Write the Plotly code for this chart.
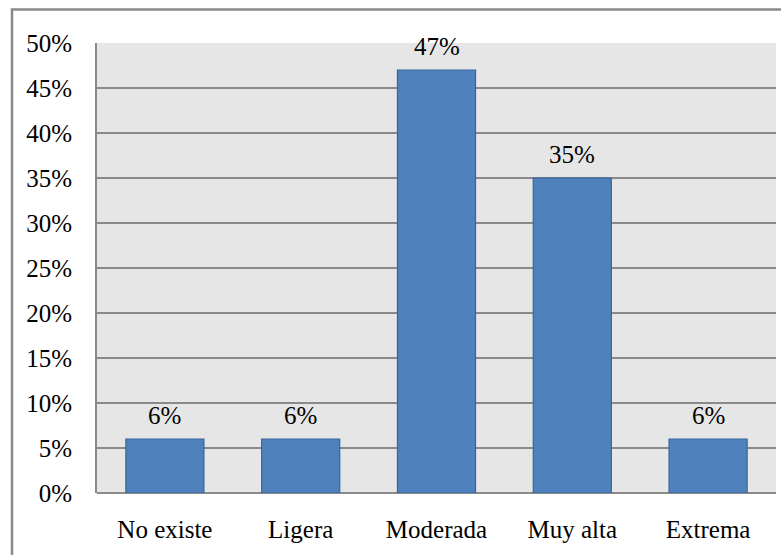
import plotly.graph_objects as go

categories = ["No existe", "Ligera", "Moderada", "Muy alta", "Extrema"]
values = [6, 6, 47, 35, 6]
tick_vals = [0, 5, 10, 15, 20, 25, 30, 35, 40, 45, 50]
tick_text = [f"{v}%" for v in tick_vals]
labels = [f"{v}%" for v in values]

FONT = "Liberation Serif, Times New Roman, serif"
GRID = "#8a8a8a"

fig = go.Figure()
fig.add_trace(go.Bar(
    x=categories, y=values,
    marker=dict(color="#4f81bd", line=dict(color="#3a659a", width=1.2)),
    hoverinfo="skip",
))

for c, v, t in zip(categories, values, labels):
    fig.add_annotation(x=c, y=v, text=t, showarrow=False, xref="x", yref="y",
                       yanchor="middle", yshift=24,
                       font=dict(family=FONT, size=25, color="black"))

fig.add_shape(type="rect", xref="paper", yref="paper",
              x0=-0.1252, x1=1.05, y0=-0.2, y1=1.0745,
              line=dict(color=GRID, width=2.5), fillcolor="rgba(0,0,0,0)", layer="above")

fig.update_layout(
    width=781, height=555,
    margin=dict(l=97, r=5, t=43, b=62),
    paper_bgcolor="white",
    plot_bgcolor="#e6e6e6",
    bargap=0.425,
    showlegend=False,
    font=dict(family=FONT, size=25, color="black"),
    xaxis=dict(showgrid=False, showline=False, ticks="", ticklabelstandoff=19,
               tickfont=dict(family=FONT, size=25, color="black")),
    yaxis=dict(range=[0, 50], tickvals=tick_vals, ticktext=tick_text,
               showgrid=True, gridcolor=GRID, gridwidth=1.5,
               zeroline=True, zerolinecolor=GRID, zerolinewidth=2,
               showline=True, linecolor=GRID, linewidth=2, mirror=False,
               ticks="", ticklabelstandoff=18,
               tickfont=dict(family=FONT, size=25, color="black")),
)

fig.write_html("out.html")
